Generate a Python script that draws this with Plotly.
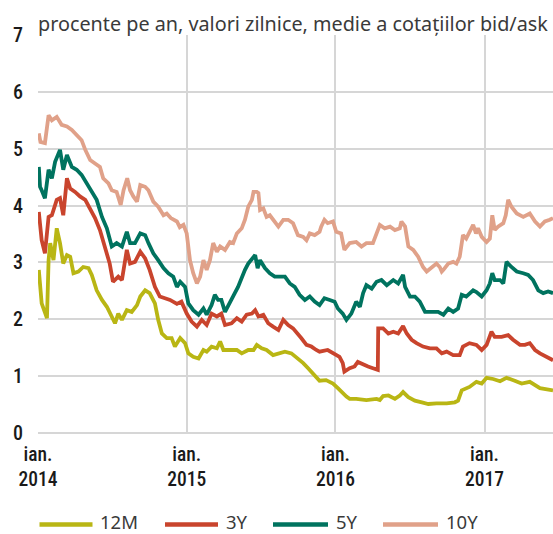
import plotly.graph_objects as go

# ---------------- data ----------------
dates_12m = ["2014-01-03","2014-01-06","2014-01-10","2014-01-23","2014-01-27","2014-01-31","2014-02-08","2014-02-16","2014-02-24","2014-03-04",
             "2014-03-13","2014-03-21","2014-03-29","2014-04-10","2014-04-22","2014-05-05","2014-05-13","2014-05-25","2014-06-07","2014-06-19",
             "2014-07-01","2014-07-09","2014-07-17","2014-07-26","2014-08-07","2014-08-19","2014-09-01","2014-09-09","2014-09-21","2014-10-02",
             "2014-10-15","2014-10-23","2014-11-01","2014-11-13","2014-11-25","2014-12-03","2014-12-16","2014-12-28","2015-01-05","2015-01-17",
             "2015-01-30","2015-02-11","2015-02-19","2015-03-03","2015-03-16","2015-03-24","2015-04-01","2015-04-17","2015-05-04","2015-05-16",
             "2015-06-01","2015-06-14","2015-06-22","2015-07-04","2015-07-16","2015-08-01","2015-08-18","2015-08-30","2015-09-15","2015-10-01",
             "2015-10-14","2015-10-26","2015-11-07","2015-11-19","2015-11-23","2015-12-09","2015-12-26","2016-01-07","2016-01-19","2016-01-28",
             "2016-02-05","2016-02-21","2016-03-17","2016-04-11","2016-04-19","2016-04-27","2016-05-10","2016-05-26","2016-06-07","2016-06-15",
             "2016-06-28","2016-07-14","2016-07-31","2016-08-16","2016-09-05","2016-09-30","2016-10-20","2016-10-28","2016-11-06","2016-11-25",
             "2016-12-12","2016-12-25","2017-01-06","2017-01-22","2017-02-08","2017-02-24","2017-03-16","2017-04-02","2017-04-22","2017-05-17",
             "2017-06-18"]
values_12m = [2.87,2.57,2.28,2.02,3.04,3.34,3.04,3.60,3.34,2.98,
              3.13,3.10,2.81,2.84,2.92,2.90,2.78,2.51,2.34,2.22,
              2.05,1.93,2.10,1.99,2.16,2.13,2.25,2.40,2.51,2.46,
              2.28,1.99,1.75,1.67,1.67,1.52,1.67,1.58,1.40,1.34,
              1.31,1.46,1.43,1.52,1.49,1.61,1.46,1.46,1.46,1.40,
              1.46,1.46,1.55,1.49,1.46,1.37,1.40,1.43,1.40,1.31,
              1.23,1.14,1.05,0.96,0.92,0.93,0.87,0.79,0.70,0.64,
              0.60,0.60,0.58,0.60,0.58,0.65,0.66,0.60,0.66,0.72,
              0.63,0.57,0.54,0.51,0.52,0.52,0.54,0.57,0.75,0.81,
              0.90,0.87,0.97,0.95,0.91,0.97,0.92,0.87,0.90,0.79,
              0.75]

dates_3y = ["2014-01-03","2014-01-06","2014-01-10","2014-01-18","2014-01-27","2014-02-04","2014-02-16","2014-02-24","2014-03-04","2014-03-13",
            "2014-03-21","2014-04-02","2014-04-14","2014-04-27","2014-05-09","2014-05-21","2014-06-02","2014-06-14","2014-06-26","2014-07-04",
            "2014-07-17","2014-07-26","2014-08-07","2014-08-15","2014-08-27","2014-09-09","2014-09-21","2014-10-02","2014-10-15","2014-10-27",
            "2014-11-08","2014-11-21","2014-12-08","2014-12-19","2015-01-01","2015-01-13","2015-01-26","2015-02-07","2015-02-19","2015-03-03",
            "2015-03-16","2015-03-27","2015-04-05","2015-04-21","2015-05-04","2015-05-16","2015-05-28","2015-06-10","2015-06-18","2015-06-26",
            "2015-07-08","2015-07-20","2015-08-01","2015-08-14","2015-08-26","2015-09-07","2015-09-19","2015-10-01","2015-10-09","2015-10-22",
            "2015-11-03","2015-11-15","2015-11-23","2015-12-13","2015-12-30","2016-01-11","2016-01-19","2016-01-23","2016-02-05","2016-02-17",
            "2016-02-25","2016-03-09","2016-03-21","2016-04-02","2016-04-14","2016-04-15","2016-04-27","2016-05-10","2016-05-22","2016-06-03",
            "2016-06-15","2016-06-24","2016-07-06","2016-07-18","2016-08-03","2016-08-20","2016-09-05","2016-09-18","2016-09-30","2016-10-16",
            "2016-11-01","2016-11-09","2016-11-25","2016-12-12","2016-12-25","2017-01-06","2017-01-18","2017-01-26","2017-02-12","2017-02-28",
            "2017-03-12","2017-03-29","2017-04-10","2017-04-22","2017-05-05","2017-05-17","2017-06-02","2017-06-18"]
values_3y = [3.89,3.63,3.39,3.16,3.80,3.83,4.10,4.13,3.83,4.48,
             4.30,4.24,4.16,4.10,3.95,3.78,3.57,3.28,2.98,2.66,
             2.75,2.69,3.22,2.98,3.01,3.19,3.07,2.87,2.57,2.40,
             2.37,2.34,2.27,2.31,2.10,1.96,1.87,1.99,1.90,2.10,
             2.05,2.10,1.90,1.93,2.02,1.96,2.08,2.10,2.16,2.05,
             2.08,1.93,1.87,1.81,1.99,1.90,1.84,1.75,1.67,1.55,
             1.52,1.46,1.43,1.46,1.40,1.34,1.23,1.08,1.14,1.17,
             1.25,1.20,1.17,1.14,1.11,1.84,1.84,1.75,1.78,1.75,
             1.88,1.75,1.64,1.58,1.52,1.49,1.49,1.40,1.43,1.37,
             1.37,1.52,1.58,1.55,1.46,1.55,1.78,1.69,1.69,1.72,
             1.64,1.55,1.55,1.58,1.46,1.40,1.34,1.28]

dates_5y = ["2014-01-03","2014-01-06","2014-01-10","2014-01-18","2014-01-27","2014-02-04","2014-02-12","2014-02-24","2014-03-04","2014-03-13",
            "2014-03-25","2014-04-06","2014-04-18","2014-05-01","2014-05-13","2014-05-25","2014-06-07","2014-06-19","2014-07-01","2014-07-13",
            "2014-07-26","2014-08-07","2014-08-15","2014-08-27","2014-09-09","2014-09-21","2014-09-29","2014-10-11","2014-10-23","2014-11-05",
            "2014-11-17","2014-11-29","2014-12-08","2014-12-16","2014-12-28","2015-01-05","2015-01-17","2015-01-30","2015-02-11","2015-02-19",
            "2015-03-03","2015-03-11","2015-03-19","2015-03-27","2015-04-05","2015-04-17","2015-04-29","2015-05-07","2015-05-16","2015-05-24",
            "2015-06-01","2015-06-10","2015-06-18","2015-06-24","2015-06-30","2015-07-12","2015-07-24","2015-08-05","2015-08-22","2015-08-30",
            "2015-09-11","2015-09-23","2015-10-05","2015-10-18","2015-10-30","2015-11-11","2015-11-23","2015-12-05","2015-12-18","2015-12-30",
            "2016-01-07","2016-01-19","2016-01-28","2016-02-09","2016-02-21","2016-03-01","2016-03-09","2016-03-17","2016-03-30","2016-04-11",
            "2016-04-23","2016-05-06","2016-05-22","2016-06-03","2016-06-15","2016-06-20","2016-07-02","2016-07-14","2016-07-26","2016-08-08",
            "2016-08-24","2016-09-09","2016-09-22","2016-10-04","2016-10-16","2016-10-28","2016-11-06","2016-11-17","2016-12-04","2016-12-12",
            "2016-12-25","2017-01-06","2017-01-14","2017-01-20","2017-01-26","2017-02-08","2017-02-16","2017-02-24","2017-03-08","2017-03-21",
            "2017-04-06","2017-04-18","2017-04-30","2017-05-13","2017-05-25","2017-06-06","2017-06-18"]
values_5y = [4.68,4.33,4.27,4.13,4.63,4.48,4.77,4.98,4.63,4.89,
             4.68,4.63,4.54,4.39,4.22,4.10,3.80,3.60,3.28,3.34,
             3.28,3.54,3.34,3.34,3.51,3.48,3.34,3.16,3.04,2.90,
             2.81,2.75,2.57,2.66,2.57,2.28,2.16,2.08,2.19,2.08,
             2.25,2.43,2.34,2.34,2.13,2.31,2.46,2.57,2.75,2.87,
             2.98,3.07,3.13,2.90,3.04,2.90,2.81,2.75,2.75,2.75,
             2.63,2.57,2.43,2.34,2.40,2.31,2.25,2.37,2.34,2.31,
             2.19,2.10,1.99,2.10,2.31,2.22,2.46,2.60,2.54,2.66,
             2.69,2.60,2.69,2.63,2.78,2.57,2.40,2.40,2.31,2.13,
             2.13,2.13,2.08,2.19,2.13,2.19,2.43,2.40,2.51,2.48,
             2.40,2.51,2.63,2.81,2.69,2.69,2.63,3.01,2.92,2.84,
             2.81,2.78,2.69,2.51,2.46,2.49,2.46]

dates_10y = ["2014-01-03","2014-01-07","2014-01-18","2014-01-27","2014-02-04","2014-02-16","2014-02-28","2014-03-13","2014-03-25","2014-04-06",
             "2014-04-18","2014-04-27","2014-05-09","2014-05-21","2014-06-02","2014-06-10","2014-06-23","2014-07-01","2014-07-13","2014-07-23",
             "2014-07-30","2014-08-08","2014-08-15","2014-08-23","2014-09-01","2014-09-09","2014-09-21","2014-09-29","2014-10-11","2014-10-23",
             "2014-11-05","2014-11-13","2014-11-23","2014-12-08","2014-12-15","2014-12-24","2015-01-01","2015-01-09","2015-01-17","2015-01-26",
             "2015-02-03","2015-02-11","2015-02-19","2015-02-27","2015-03-07","2015-03-16","2015-03-24","2015-04-05","2015-04-17","2015-04-25",
             "2015-05-04","2015-05-16","2015-05-24","2015-06-01","2015-06-10","2015-06-14","2015-06-22","2015-06-26","2015-06-30","2015-07-08",
             "2015-07-16","2015-07-24","2015-08-01","2015-08-14","2015-08-26","2015-09-07","2015-09-19","2015-10-01","2015-10-14","2015-10-22",
             "2015-10-30","2015-11-11","2015-11-23","2015-11-27","2015-12-05","2015-12-13","2015-12-26","2016-01-03","2016-01-15","2016-01-23",
             "2016-02-05","2016-02-21","2016-03-05","2016-03-17","2016-04-02","2016-04-11","2016-04-19","2016-05-01","2016-05-14","2016-05-26",
             "2016-06-07","2016-06-11","2016-06-20","2016-06-28","2016-07-10","2016-07-22","2016-08-03","2016-08-12","2016-08-24","2016-09-05",
             "2016-09-13","2016-09-18","2016-09-22","2016-10-04","2016-10-16","2016-10-24","2016-11-01","2016-11-09","2016-11-17","2016-11-25",
             "2016-12-04","2016-12-11","2016-12-16","2016-12-25","2017-01-06","2017-01-14","2017-01-20","2017-01-26","2017-02-03","2017-02-16",
             "2017-02-22","2017-02-28","2017-03-08","2017-03-21","2017-04-06","2017-04-22","2017-05-05","2017-05-17","2017-05-29","2017-06-10",
             "2017-06-18"]
values_10y = [5.27,5.12,5.10,5.59,5.50,5.56,5.42,5.39,5.33,5.24,
              5.15,4.98,4.80,4.74,4.68,4.48,4.39,4.27,4.24,4.01,
              4.27,4.48,4.27,4.16,4.07,4.36,4.33,4.27,4.07,3.98,
              3.83,3.86,3.78,3.72,3.62,3.66,3.51,3.04,2.81,2.63,
              2.75,3.04,2.87,3.04,3.34,3.19,3.28,3.22,3.36,3.34,
              3.51,3.60,3.75,3.98,4.10,4.24,4.24,4.22,3.92,3.95,
              3.80,3.83,3.75,3.63,3.75,3.75,3.69,3.48,3.45,3.39,
              3.51,3.48,3.54,3.63,3.75,3.69,3.72,3.54,3.51,3.22,
              3.34,3.36,3.28,3.34,3.34,3.51,3.66,3.60,3.63,3.57,
              3.60,3.72,3.63,3.28,3.22,3.10,2.92,2.84,2.92,2.98,
              2.92,2.84,2.87,2.98,3.01,2.98,3.10,3.48,3.42,3.54,
              3.66,3.51,3.60,3.45,3.36,3.42,3.83,3.57,3.63,3.69,
              3.83,4.10,3.98,3.86,3.80,3.86,3.72,3.63,3.72,3.75,
              3.78]

series_names = ["12M", "3Y", "5Y", "10Y"]
series_colors = ["#b9b614", "#c9442d", "#00735f", "#e0a189"]

tick_dates = ["2014-01-01", "2015-01-01", "2016-01-01", "2017-01-01"]
tick_labels = ["ian.<br>2014", "ian.<br>2015", "ian.<br>2016", "ian.<br>2017"]
y_ticks = [0, 1, 2, 3, 4, 5, 6, 7]

title_text = "procente pe an, valori zilnice, medie a cotațiilor bid/ask"

# ---------------- figure ----------------
TICK_FONT = "Roboto Condensed, Roboto, sans-serif"
TEXT_FONT = "Noto Sans, Open Sans, sans-serif"
GRID = "#d6d6d6"

all_dates = [dates_12m, dates_3y, dates_5y, dates_10y]
all_values = [values_12m, values_3y, values_5y, values_10y]

fig = go.Figure()
for name, color, d, v in zip(series_names, series_colors, all_dates, all_values):
    fig.add_trace(go.Scatter(x=d, y=v, mode="lines", name=name,
                             line=dict(color=color, width=3.8),
                             showlegend=False))

W, H = 553, 534
L, R, T, B = 38, 0, 35, 101
pw, ph = W - L - R, H - T - B

def px_x(p):
    return (p - L) / pw

def px_y(p):
    return (H - B - p) / ph

# custom legend (lines + labels), positioned like the reference
legend_pos = [(39.5, 92.5, 98), (165, 218, 224), (273, 328, 334), (383, 438, 444)]
legend_line_y = 524.5
shapes = []
annotations = []
for (x0, x1, xt), name, color in zip(legend_pos, series_names, series_colors):
    shapes.append(dict(type="line", xref="paper", yref="paper",
                       x0=px_x(x0), x1=px_x(x1), y0=px_y(legend_line_y), y1=px_y(legend_line_y),
                       line=dict(color=color, width=4.5)))
    annotations.append(dict(xref="paper", yref="paper", x=px_x(xt), y=px_y(521),
                            xanchor="left", yanchor="middle", showarrow=False,
                            text=name, font=dict(family=TEXT_FONT, size=18.5, color="#3a3a3a")))

annotations.append(dict(xref="paper", yref="paper", x=px_x(36), y=px_y(23),
                        xanchor="left", yanchor="middle", showarrow=False,
                        text=title_text,
                        font=dict(family=TEXT_FONT, size=19.8, color="#3a3a3a")))

fig.update_layout(
    width=W, height=H,
    margin=dict(l=L, r=R, t=T, b=B, pad=0),
    paper_bgcolor="white", plot_bgcolor="white",
    shapes=shapes, annotations=annotations,
    xaxis=dict(type="date", range=["2014-01-01", "2017-06-18"],
               tickmode="array", tickvals=tick_dates, ticktext=tick_labels,
               showgrid=True, gridcolor=GRID, gridwidth=1.6,
               showline=False, zeroline=False, ticks="",
               tickfont=dict(family=TICK_FONT, size=19.5, color="#1a1a1a", weight=500),
               ticklabelstandoff=7),
    yaxis=dict(range=[0, 7], tickmode="array", tickvals=y_ticks,
               showgrid=True, gridcolor=GRID, gridwidth=1.6,
               zeroline=True, zerolinecolor=GRID, zerolinewidth=1.6,
               showline=False, ticks="",
               tickfont=dict(family=TICK_FONT, size=20, color="#1a1a1a", weight=500),
               ticklabelstandoff=14),
)

fig.write_html("out.html", config={"displayModeBar": False},
               post_script="document.body.style.margin='0px';document.body.style.overflow='hidden';")
